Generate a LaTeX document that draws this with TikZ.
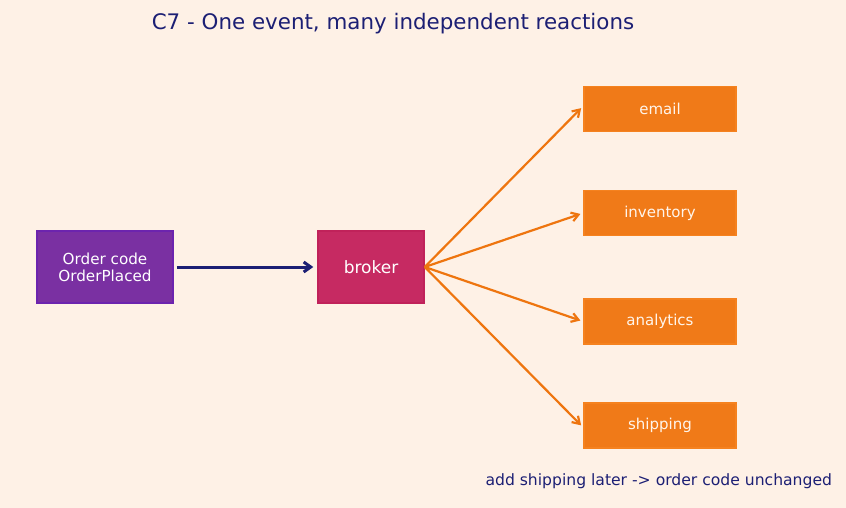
\documentclass[tikz,border=0pt]{standalone}
\usepackage{fontspec}
\setmainfont{DejaVu Sans}
\usetikzlibrary{arrows.meta}
\definecolor{bgc}{HTML}{FEF1E6}
\definecolor{navy}{HTML}{1C1F74}
\definecolor{purplef}{HTML}{7A30A2}
\definecolor{purpled}{HTML}{6C24AE}
\definecolor{brokerf}{HTML}{C62A62}
\definecolor{brokerd}{HTML}{C0225A}
\definecolor{orangef}{HTML}{F07A18}
\definecolor{oranged}{HTML}{F5821F}
\definecolor{orangel}{HTML}{EE750F}
\begin{document}
\begin{tikzpicture}[x=1pt,y=-1pt,
  box/.style={draw, line width=1.5pt, inner sep=0pt, align=center, text=white},
  consumer/.style={box, fill=orangef, draw=oranged, minimum width=152pt, minimum height=45pt, font=\fontsize{15}{18}\selectfont, text=white!92!orange},
  fan/.style={draw=orangel, line width=2.2pt, -{Straight Barb[length=7pt,width=9pt,line width=2.2pt]}, shorten >=3pt},
]
\fill[bgc] (0,0) rectangle (846,508);
\useasboundingbox (0,0) rectangle (846,508);
\node[text=navy, font=\fontsize{21.4}{25}\selectfont] (title) at (393,24) {C7 - One event, many independent reactions};
\node[box, fill=purplef, draw=purpled, minimum width=136pt, minimum height=72pt, font=\fontsize{15.2}{17}\selectfont] (order) at (105,267) {Order code\\OrderPlaced};
\node[box, fill=brokerf, draw=brokerd, minimum width=106pt, minimum height=72pt, font=\fontsize{17}{20}\selectfont] (broker) at (371,267) {broker};
\node[consumer] (email) at (660,109) {email};
\node[consumer] (inventory) at (660,213) {inventory};
\node[consumer] (analytics) at (660,321.5) {analytics};
\node[consumer] (shipping) at (660,425.5) {shipping};
\node[text=navy, anchor=east, font=\fontsize{15.6}{18}\selectfont] (note) at (835.5,481) {add shipping later -> order code unchanged};
\draw[navy, line width=3pt, -{Straight Barb[length=7pt,width=10pt,line width=3pt]}, shorten <=3pt, shorten >=4pt] (order.east) -- (broker.west);
\draw[fan] (broker.east) -- ([yshift=3pt]email.west);
\draw[fan] (broker.east) -- (inventory.west);
\draw[fan] (broker.east) -- (analytics.west);
\draw[fan] (broker.east) -- ([yshift=-2pt]shipping.west);
\end{tikzpicture}
\end{document}
